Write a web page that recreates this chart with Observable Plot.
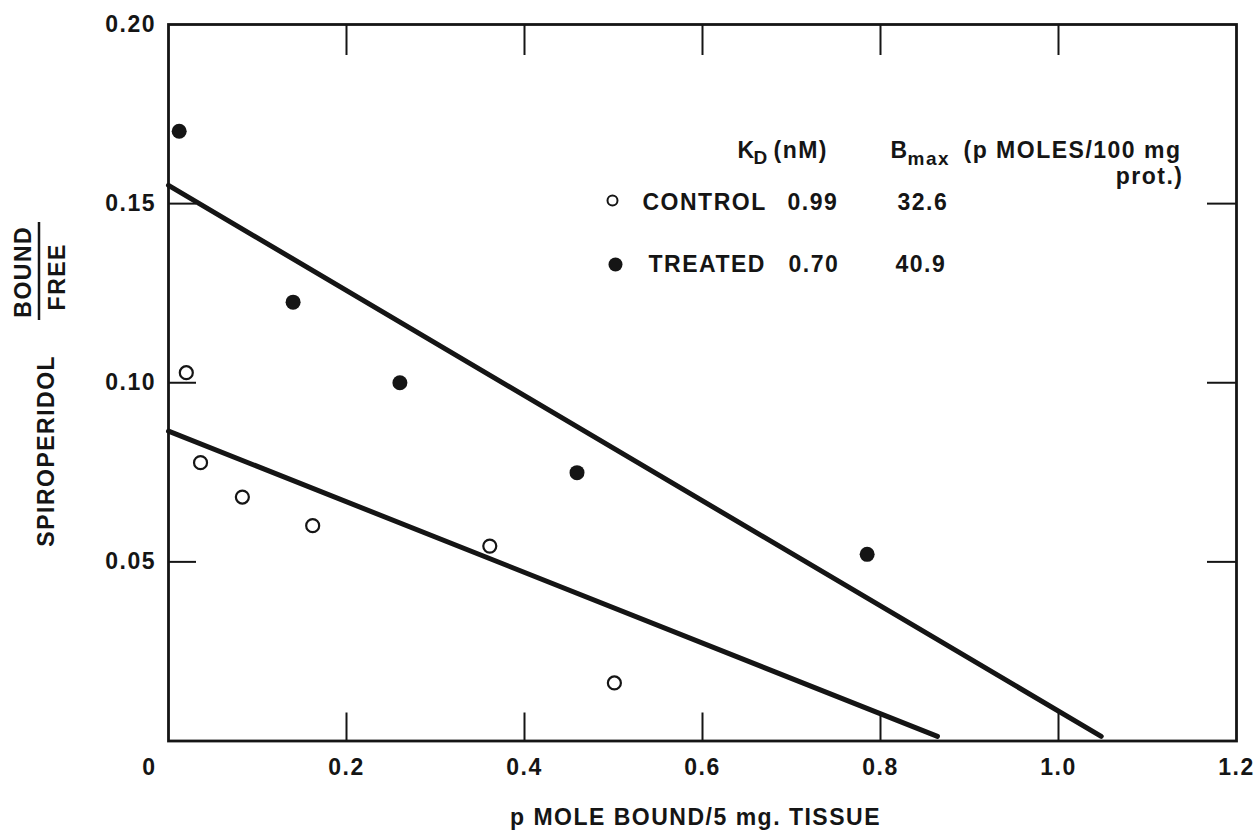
<!DOCTYPE html>
<html>
<head>
<meta charset="utf-8">
<script src="https://cdn.jsdelivr.net/npm/d3@7"></script>
<script src="https://cdn.jsdelivr.net/npm/@observablehq/plot@0.6"></script>
<style>
  html, body { margin: 0; padding: 0; background: #fff; }
  #chart svg { display: block; }
</style>
</head>
<body>
<div id="chart"></div>
<script>
// ---- Data (Scatchard plot) ----
const controlX = [0.020, 0.036, 0.083, 0.162, 0.361, 0.501];
const controlY = [0.1028, 0.0777, 0.0681, 0.0601, 0.0544, 0.0162];
const treatedX = [0.012, 0.140, 0.260, 0.459, 0.785];
const treatedY = [0.1702, 0.1225, 0.1000, 0.0749, 0.0521];

// fitted regression lines (end points)
const controlFitX = [0, 0.864];
const controlFitY = [0.0865, 0.0013];
const treatedFitX = [0, 1.048];
const treatedFitY = [0.1551, 0.0013];

// axis ticks and labels
const xTickValues = [0.2, 0.4, 0.6, 0.8, 1.0];
const xLabelValues = [0.2, 0.4, 0.6, 0.8, 1.0, 1.2];
const yTickValues = [0.05, 0.10, 0.15];
const yLabelValues = [0.05, 0.10, 0.15, 0.20];

// legend table
const legendNames = ["CONTROL", "TREATED"];
const legendKd = ["0.99", "0.70"];
const legendBmax = ["32.6", "40.9"];

const xTitle = "p MOLE BOUND/5 mg. TISSUE";
const yTitleMain = "SPIROPERIDOL";
const yTitleNum = "BOUND";
const yTitleDen = "FREE";

// ---- Build tables ----
const control = controlX.map((x, i) => ({x, y: controlY[i]}));
const treated = treatedX.map((x, i) => ({x, y: treatedY[i]}));
const controlFit = controlFitX.map((x, i) => ({x, y: controlFitY[i]}));
const treatedFit = treatedFitX.map((x, i) => ({x, y: treatedFitY[i]}));

const INK = "#151515";
const FONT = "'Liberation Sans', Arial, Helvetica, sans-serif";
const TL = {frameAnchor: "top-left", fill: INK, lineAnchor: "middle"};
const ROT = {frameAnchor: "left", rotate: -90, fill: INK, fontSize: 23, lineAnchor: "middle", textAnchor: "middle"};

const svg = Plot.plot({
  width: 1257,
  height: 831,
  marginLeft: 168,
  marginRight: 21,
  marginTop: 24,
  marginBottom: 90.5,
  x: {domain: [0, 1.2]},
  y: {domain: [0, 0.2]},
  style: {fontFamily: FONT, fontWeight: "bold", fontSize: "23px", letterSpacing: "1.5px", color: INK, background: "#fff"},
  marks: [
    Plot.frame({stroke: INK, strokeWidth: 2.8}),
    // inward ticks on all four sides
    Plot.axisX(xTickValues, {anchor: "bottom", tickSize: -28, strokeWidth: 2, tickFormat: () => "", label: null}),
    Plot.axisX(xTickValues, {anchor: "top", tickSize: -30, strokeWidth: 2, tickFormat: () => "", label: null}),
    Plot.axisY(yTickValues, {anchor: "left", tickSize: -28, strokeWidth: 2, tickFormat: () => "", label: null}),
    Plot.axisY(yTickValues, {anchor: "right", tickSize: -30, strokeWidth: 2, tickFormat: () => "", label: null}),
    // tick labels
    Plot.axisX(xLabelValues, {anchor: "bottom", tickSize: 0, tickPadding: 18, fontSize: 23, tickFormat: d => d.toFixed(1), label: null}),
    Plot.axisX([0], {anchor: "bottom", tickSize: 0, tickPadding: 18, dx: -19, fontSize: 23, tickFormat: () => "0", label: null}),
    Plot.axisY(yLabelValues, {anchor: "left", tickSize: 0, tickPadding: 12.5, fontSize: 23, tickFormat: d => d.toFixed(2), label: null}),
    // fitted lines
    Plot.line(controlFit, {x: "x", y: "y", stroke: INK, strokeWidth: 5}),
    Plot.line(treatedFit, {x: "x", y: "y", stroke: INK, strokeWidth: 5}),
    // data points
    Plot.dot(control, {x: "x", y: "y", r: 6.5, stroke: INK, strokeWidth: 2.2, fill: "#fff"}),
    Plot.dot(treated, {x: "x", y: "y", r: 7.5, fill: INK, stroke: "none"}),
    // axis titles
    Plot.text([xTitle], {frameAnchor: "bottom", dx: -7, dy: 77, fill: INK, fontSize: 23, lineAnchor: "middle", textAnchor: "middle"}),
    Plot.text([yTitleMain], {...ROT, dx: -122, dy: 68}),
    Plot.text([yTitleNum], {...ROT, dx: -145, dy: -111}),
    Plot.text([yTitleDen], {...ROT, dx: -111, dy: -106}),
    // legend header
    Plot.text(["K"], {...TL, dx: 569, dy: 126, textAnchor: "start", fontSize: 23}),
    Plot.text(["D"], {...TL, dx: 585, dy: 133, textAnchor: "start", fontSize: 19}),
    Plot.text(["(nM)"], {...TL, dx: 605, dy: 126, textAnchor: "start", fontSize: 23}),
    Plot.text(["B"], {...TL, dx: 722, dy: 126, textAnchor: "start", fontSize: 23}),
    Plot.text(["max"], {...TL, dx: 739, dy: 134, textAnchor: "start", fontSize: 19}),
    Plot.text(["(p MOLES/100 mg"], {...TL, dx: 795, dy: 126, textAnchor: "start", fontSize: 23, letterSpacing: "1px"}),
    Plot.text(["prot.)"], {...TL, dx: 1015, dy: 152, textAnchor: "end", fontSize: 23}),
    // legend rows
    Plot.dot([0], {frameAnchor: "top-left", dx: 444, dy: 176, r: 5, stroke: INK, strokeWidth: 2, fill: "#fff"}),
    Plot.dot([0], {frameAnchor: "top-left", dx: 447, dy: 240, r: 7, fill: INK, stroke: "none"}),
    Plot.text([legendNames[0]], {...TL, dx: 474, dy: 178, textAnchor: "start", fontSize: 23}),
    Plot.text([legendKd[0]], {...TL, dx: 619, dy: 178, textAnchor: "start", fontSize: 23}),
    Plot.text([legendBmax[0]], {...TL, dx: 729, dy: 178, textAnchor: "start", fontSize: 23}),
    Plot.text([legendNames[1]], {...TL, dx: 480, dy: 240, textAnchor: "start", fontSize: 23}),
    Plot.text([legendKd[1]], {...TL, dx: 620, dy: 240, textAnchor: "start", fontSize: 23}),
    Plot.text([legendBmax[1]], {...TL, dx: 727, dy: 240, textAnchor: "start", fontSize: 23})
  ]
});

// fraction bar between BOUND and FREE
d3.select(svg).append("line")
  .attr("x1", 39).attr("x2", 39)
  .attr("y1", 222).attr("y2", 320)
  .attr("stroke", INK).attr("stroke-width", 2.5);

document.getElementById("chart").appendChild(svg);
</script>
</body>
</html>
